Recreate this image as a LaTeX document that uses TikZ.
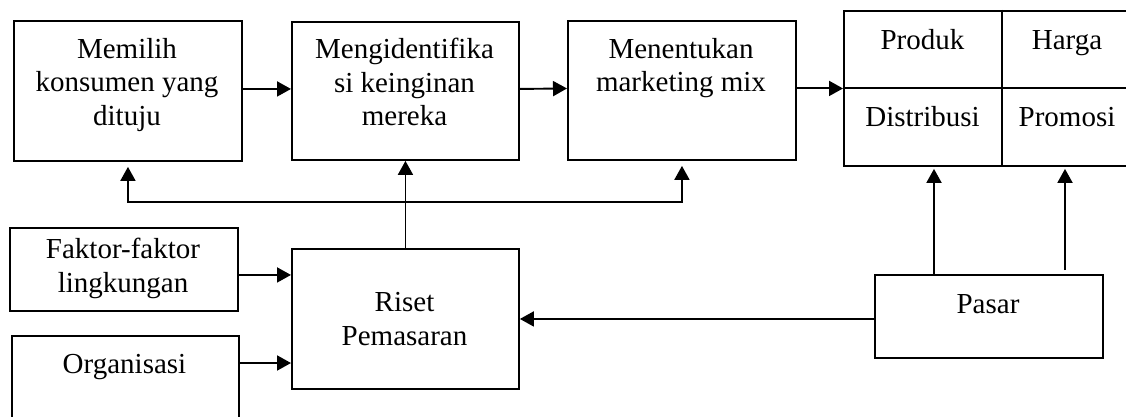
\documentclass[tikz,border=0pt]{standalone}
\usepackage{fontspec}
\setmainfont{Liberation Serif}
\usetikzlibrary{arrows.meta}
\begin{document}
\begin{tikzpicture}[x=1pt,y=-1pt,
  box/.style={draw, line width=1.9pt, inner sep=0pt, anchor=north west},
  txt/.style={inner sep=0pt, align=center, font=\fontsize{29}{33.5}\selectfont},
  arr/.style={line width=1.9pt, -{Triangle[length=14pt,width=15pt]}},
  con/.style={line width=1.9pt}]
\fill[white] (0,0) rectangle (1126,417);
\useasboundingbox (0,0) rectangle (1126,417);
% boxes
\node[box, minimum width=228pt, minimum height=140pt] (b1) at (13,20) {};
\node[box, minimum width=227pt, minimum height=138pt] (b2) at (291,21) {};
\node[box, minimum width=228pt, minimum height=139pt] (b3) at (567,20) {};
\node[box, minimum width=289pt, minimum height=155pt] (g) at (843,10) {};
\node[box, minimum width=228pt, minimum height=83pt] (f) at (9,227) {};
\node[box, minimum width=227pt, minimum height=120pt] (o) at (11,335) {};
\node[box, minimum width=227pt, minimum height=140pt] (r) at (291,248) {};
\node[box, minimum width=228pt, minimum height=83pt] (p) at (874,274) {};
% grid dividers
\coordinate (gv) at (1002,0);
\draw[con] (g.north -| gv) -- (g.south -| gv);
\draw[con] (g.west) -- (g.east);
% texts
\node[txt, anchor=north] (t1) at (127,38) {Memilih\\konsumen yang\\dituju};
\node[txt, anchor=north] (t2) at (404.5,38) {Mengidentifika\\si keinginan\\mereka};
\node[txt, anchor=north] (t3) at (681,38) {Menentukan\\marketing mix};
\node[txt, anchor=base] (tp) at (922.5,50) {Produk};
\node[txt, anchor=base] (th) at (1067,50) {Harga};
\node[txt, anchor=base] (td) at (922.5,127) {Distribusi};
\node[txt, anchor=base] (tm) at (1067,127) {Promosi};
\node[txt, anchor=north] (tf) at (123,238) {Faktor-faktor\\lingkungan};
\node[txt, anchor=base] (to) at (124.5,373) {Organisasi};
\node[txt, anchor=north] (tr) at (404.5,292.5) {Riset\\Pemasaran};
\node[txt, anchor=base] (tq) at (988,313) {Pasar};
% connectors top row
\draw[arr] ([yshift=2pt]b1.east) -- ([yshift=2pt]b2.west);
\draw[arr] ([yshift=2pt]b2.east) -- ([yshift=2pt]b3.west);
\draw[arr] (g.west -| b3.east) -- (g.west);
% riset bus
\coordinate (bus) at (0,202);
\coordinate (b1s) at ([yshift=-5pt]b1.south);
\coordinate (b3s) at ([yshift=-5pt]b3.south);
\draw[arr] (r.north) -- (b2.south);
\draw[con, {Triangle[length=14pt,width=15pt]}-{Triangle[length=14pt,width=15pt]}] (b1s) -- (b1.south |- bus) -- (b3.south |- bus) -- (b3s);
% inputs to riset
\coordinate (fa) at ([yshift=-5.5pt]f.east);
\coordinate (oa) at ([yshift=-28pt]o.north east);
\draw[arr] (fa) -- (fa -| r.west);
\draw[arr] (oa) -- (oa -| r.west);
\draw[arr] (p.west |- r.east) -- (r.east);
% pasar to grid
\coordinate (u1) at (934,0);
\coordinate (u2) at (1065,0);
\coordinate (gs) at ([yshift=-2pt]g.south);
\coordinate (pn) at ([yshift=4pt]p.north);
\draw[arr] (p.north -| u1) -- (gs -| u1);
\draw[arr] (pn -| u2) -- (gs -| u2);
\end{tikzpicture}
\end{document}
